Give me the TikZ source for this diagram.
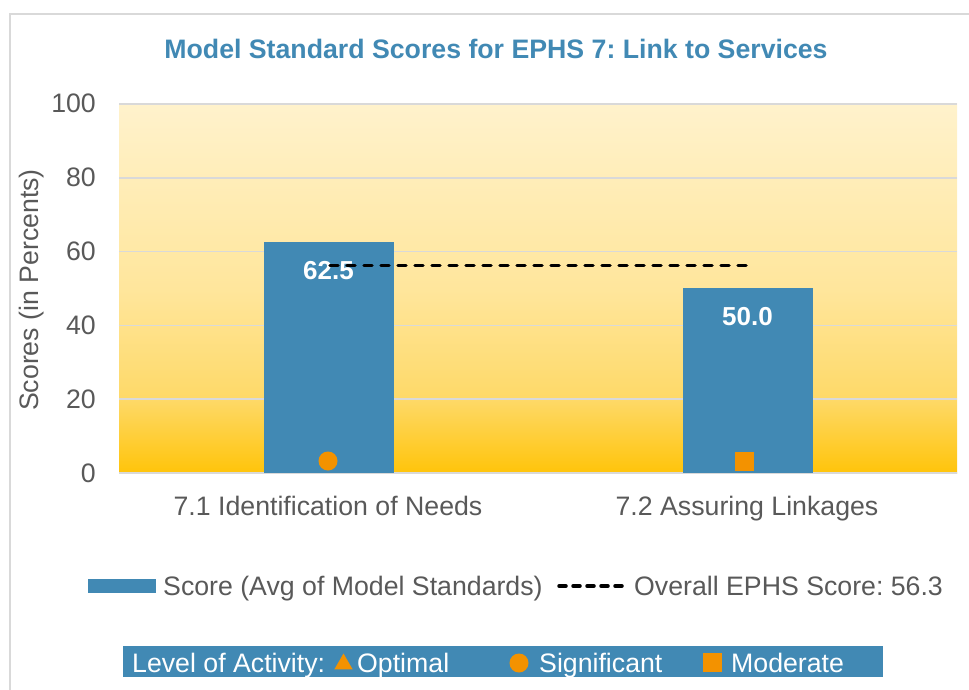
\documentclass[tikz,border=0pt]{standalone}
\usepackage{fontspec}
\setmainfont{Liberation Sans}
\usetikzlibrary{positioning,shapes.geometric}
\definecolor{barblue}{RGB}{65,137,180}
\definecolor{mark}{RGB}{243,146,0}
\definecolor{txt}{RGB}{89,89,89}
\definecolor{gridgray}{RGB}{217,217,217}
\definecolor{bgtop}{RGB}{255,242,204}
\definecolor{bgmid}{RGB}{255,230,156}
\definecolor{bglow}{RGB}{254,217,104}
\definecolor{bgbot}{RGB}{255,196,10}
\pgfdeclareverticalshading{plotbg}{100bp}{color(0bp)=(bgbot); color(25bp)=(bgbot); color(35bp)=(bglow); color(50bp)=(bgmid); color(75bp)=(bgtop); color(100bp)=(bgtop)}
\frenchspacing

\begin{document}
\begin{tikzpicture}[x=1pt, y=-1pt,
  lbl/.style = {font=\fontsize{26.7}{32}\selectfont, text=txt, inner sep=0pt},
  bar/.style = {fill=barblue, inner sep=0pt, minimum width=130pt, anchor=south},
  val/.style = {font=\fontsize{26}{31}\selectfont\bfseries, text=white, inner sep=0pt, anchor=base},
  grid/.style = {draw=gridgray, line width=1.5pt},
  avg/.style = {line width=3.5pt, dash pattern=on 8pt off 9pt, line cap=round},
  dot/.style = {circle, fill=mark, inner sep=0pt, minimum size=19pt},
  sq/.style = {rectangle, fill=mark, inner sep=0pt, minimum size=19pt},
  tri/.style = {regular polygon, regular polygon sides=3, fill=mark, inner sep=0pt, minimum size=21pt},
  key/.style = {font=\fontsize{26.7}{32}\selectfont, text=white, inner sep=0pt, anchor=base west}]
\useasboundingbox (0,0) rectangle (969,690);
\draw[gridgray, line width=1.5pt] (10,690) -- (10,14) -- (969,14);
\node[font=\fontsize{26.7}{32}\selectfont\bfseries, text=barblue, anchor=base] (title) at (496,59) {Model Standard Scores for EPHS 7: Link to Services};
\shade[shading=plotbg] (119,104) rectangle (957,473);
\foreach \v in {0,20,...,100} {
  \draw[grid] (119,{473-3.69*\v}) -- (957,{473-3.69*\v});
  \node[lbl, anchor=base east] at (96,{482-3.69*\v}) {\v};
}
\node[lbl, rotate=90] (ytitle) at (32,290) {Scores (in Percents)};
\node[bar, minimum height=230.6pt] (b1) at (328.5,473) {};
\node[bar, minimum height=184.5pt] (b2) at (747.5,473) {};
\node[val] (v1) at ([yshift=-37.5pt]b1.north) {62.5};
\node[val] (v2) at ([yshift=-37.5pt]b2.north) {50.0};
\coordinate (a1) at (330,265.3);
\coordinate (a2) at (746,265.3);
\draw[avg] (a1) -- (a2);
\node[dot] (m1) at (328,461) {};
\node[sq] (m2) at (744,461) {};
\node[lbl, anchor=base] (c1) at (328,515) {7.1 Identification of Needs};
\node[lbl, anchor=base] (c2) at (747,515) {7.2 Assuring Linkages};
\node[fill=barblue, inner sep=0pt, minimum width=68pt, minimum height=14pt] (kbar) at (122,586) {};
\node[lbl, anchor=base west] (kscore) at (163,595) {Score (Avg of Model Standards)};
\coordinate (k1) at (559,586);
\coordinate (k2) at (626,586);
\draw[avg, dash pattern=on 7pt off 7pt] (k1) -- (k2);
\node[lbl, anchor=base west] (kavg) at (634,595) {Overall EPHS Score: 56.3};
\node[fill=barblue, inner sep=0pt, minimum width=760pt, minimum height=31pt] (lev) at (503,661.5) {};
\node[key] (levt) at (132,672) {Level of Activity:};
\node[tri] (t1) at (343.5,664) {};
\node[key] (lopt) at (357,672) {Optimal};
\node[dot] (t2) at (519,663) {};
\node[key] (lsig) at (539,672) {Significant};
\node[sq] (t3) at (712,662.5) {};
\node[key] (lmod) at (731,672) {Moderate};
\end{tikzpicture}
\end{document}
